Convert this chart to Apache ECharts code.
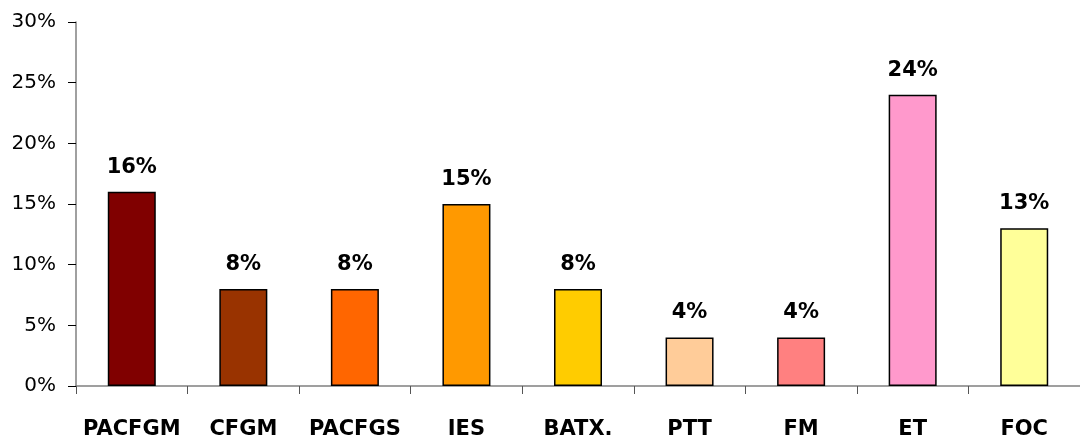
<!DOCTYPE html>
<html>
<head>
<meta charset="utf-8">
<script src="https://cdn.jsdelivr.net/npm/echarts@6/dist/echarts.min.js"></script>
<style>
  html, body { margin: 0; padding: 0; background: #fff; }
  #chart { width: 1080px; height: 440px; }
</style>
</head>
<body>
<div id="chart"></div>
<script>
// data
const categories = ["PACFGM", "CFGM", "PACFGS", "IES", "BATX.", "PTT", "FM", "ET", "FOC"];
const shares = [16, 8, 8, 15, 8, 4, 4, 24, 13];
const barColors = ["#800000", "#993300", "#FF6600", "#FF9900", "#FFCC00", "#FFCC99", "#FF8080", "#FF99CC", "#FFFF99"];

const chart = echarts.init(document.getElementById("chart"));
chart.setOption({
    animation: false,
    textStyle: { fontFamily: "DejaVu Sans" },
    grid: { left: 76, top: 22, width: 1006, height: 365 },
    xAxis: {
        type: "category",
        data: categories,
        axisLine: { lineStyle: { color: "#808080", width: 1.5 } },
        axisTick: { show: true, interval: 0, length: 8, lineStyle: { color: "#555" } },
        axisLabel: {
            interval: 0,
            margin: 33,
            fontSize: 21,
            fontWeight: "bold",
            color: "#000",
        },
    },
    yAxis: {
        type: "value",
        min: 0,
        max: 30,
        interval: 5,
        splitLine: { show: false },
        axisLine: { show: true, lineStyle: { color: "#808080", width: 1.5 } },
        axisTick: { show: true, length: 8, lineStyle: { color: "#000" } },
        axisLabel: {
            formatter: "{value}%",
            fontSize: 20,
            color: "#000",
            margin: 20,
        },
    },
    series: [
        {
            type: "bar",
            barWidth: 48,
            data: shares.map((v, i) => ({
                value: v,
                itemStyle: { color: barColors[i] },
            })),
            itemStyle: { borderColor: "#000", borderWidth: 1.5 },
            label: {
                show: true,
                position: "top",
                distance: 14,
                formatter: "{c}%",
                fontSize: 21,
                fontWeight: "bold",
                color: "#000",
            },
        },
    ],
});
</script>
</body>
</html>
